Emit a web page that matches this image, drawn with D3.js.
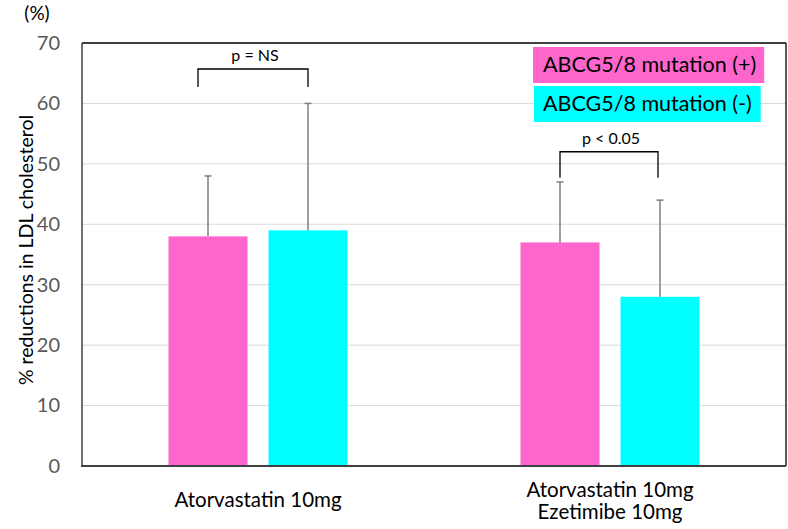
<!DOCTYPE html>
<html><head><meta charset="utf-8">
<script src="https://cdn.jsdelivr.net/npm/d3@7"></script>
<style>
html,body{margin:0;padding:0;background:#fff;}
svg{display:block;font-family:Lato,"Noto Sans",sans-serif;}
</style></head>
<body><svg id="c" width="788" height="529"></svg>
<script>
// ---- data ----
const groups = ["Atorvastatin 10mg", "Atorvastatin 10mg\nEzetimibe 10mg"];
const seriesNames = ["ABCG5/8 mutation (+)", "ABCG5/8 mutation (-)"];
const seriesColors = ["#FF66CC", "#00FFFF"];
const mutPos = [38, 37];      // mean % reduction, mutation (+)
const mutNeg = [39, 28];      // mean % reduction, mutation (-)
const sdPos = [10, 10];       // upper error, mutation (+)
const sdNeg = [21, 16];       // upper error, mutation (-)
const yTicks = [0, 10, 20, 30, 40, 50, 60, 70];
const pLabels = ["p = NS", "p < 0.05"];
const bracketTop = [65.7, 52];
const bracketBottom = [62.7, 47.7];

const svg = d3.select("#c");
const W = 788, H = 529;
const m = {left: 82, right: 2, top: 43, bottom: 63};

const x0 = d3.scaleBand().domain(groups).range([m.left, W - m.right]).padding(0);
const x1 = d3.scaleBand().domain(seriesNames).range([0, x0.bandwidth()]).paddingInner(0.21).paddingOuter(0.865);
const y = d3.scaleLinear().domain([0, 70]).range([H - m.bottom, m.top]);

// gridlines
svg.append("g").selectAll("line").data(yTicks.filter(d => d > 0 && d < 70)).join("line")
  .attr("x1", m.left).attr("x2", W - m.right)
  .attr("y1", d => y(d)).attr("y2", d => y(d))
  .attr("stroke", "#d9d9d9").attr("stroke-width", 1);

// y axis tick labels
const yAxis = d3.axisLeft(y).tickValues(yTicks).tickSize(0).tickPadding(22);
const ga = svg.append("g").attr("transform", `translate(${m.left},0)`).call(yAxis);
ga.select(".domain").remove();
ga.selectAll("text").attr("font-family", "Lato, sans-serif").attr("font-size", 20).attr("fill", "#595959");

// bars
const rows = groups.map((g, i) => [
  {g, s: seriesNames[0], v: mutPos[i], e: sdPos[i], c: seriesColors[0]},
  {g, s: seriesNames[1], v: mutNeg[i], e: sdNeg[i], c: seriesColors[1]}
]).flat();

svg.append("g").selectAll("rect").data(rows).join("rect")
  .attr("x", d => x0(d.g) + x1(d.s))
  .attr("width", x1.bandwidth())
  .attr("y", d => y(d.v))
  .attr("height", d => y(0) - y(d.v))
  .attr("fill", d => d.c);

// error bars (upper only)
const eb = svg.append("g").attr("stroke", "#7f7f7f").attr("stroke-width", 1.5);
rows.forEach(d => {
  const cx = x0(d.g) + x1(d.s) + x1.bandwidth() / 2;
  eb.append("line").attr("x1", cx).attr("x2", cx).attr("y1", y(d.v)).attr("y2", y(d.v + d.e));
  eb.append("line").attr("x1", cx - 3.5).attr("x2", cx + 3.5).attr("y1", y(d.v + d.e)).attr("y2", y(d.v + d.e));
});

// frame
svg.append("line").attr("x1", m.left).attr("x2", W - m.right).attr("y1", m.top).attr("y2", m.top).attr("stroke", "#000").attr("stroke-width", 1.3);
svg.append("line").attr("x1", W - m.right).attr("x2", W - m.right).attr("y1", m.top).attr("y2", y(0)).attr("stroke", "#000").attr("stroke-width", 1.3);
svg.append("line").attr("x1", m.left).attr("x2", m.left).attr("y1", m.top).attr("y2", y(0)).attr("stroke", "#404040").attr("stroke-width", 1.5);
svg.append("line").attr("x1", m.left - 1).attr("x2", W - m.right).attr("y1", y(0)).attr("y2", y(0)).attr("stroke", "#404040").attr("stroke-width", 2.2);

// significance brackets
const bOff = [[-10, 0], [0, -2]];
groups.forEach((g, i) => {
  const xa = x0(g) + x1(seriesNames[0]) + x1.bandwidth() / 2 + bOff[i][0];
  const xb = x0(g) + x1(seriesNames[1]) + x1.bandwidth() / 2 + bOff[i][1];
  svg.append("path")
    .attr("d", `M${xa},${y(bracketBottom[i])}V${y(bracketTop[i])}H${xb}V${y(bracketBottom[i])}`)
    .attr("fill", "none").attr("stroke", "#000").attr("stroke-width", 1.3);
  svg.append("text").attr("x", (xa + xb) / 2 + 2).attr("y", y(bracketTop[i]) - 8)
    .attr("text-anchor", "middle").attr("font-size", 16).attr("fill", "#000").text(pLabels[i]);
});

// x labels
groups.forEach((g, i) => {
  const lines = g.split("\n");
  const cx = x0(g) + x0.bandwidth() / 2;
  const base = lines.length === 1 ? 507 : 497;
  lines.forEach((l, j) => svg.append("text").attr("text-anchor", "middle")
    .attr("font-size", 20.5).attr("fill", "#000")
    .attr("x", cx).attr("y", base + j * 22).text(l));
});

// legend
const lg = svg.append("g");
const legY = [47, 86];
seriesNames.forEach((s, i) => {
  const t = lg.append("text").attr("x", 543).attr("y", legY[i] + 25).attr("font-size", 21.5).attr("fill", "#000").text(s);
  const w = t.node().getComputedTextLength();
  lg.insert("rect", "text").attr("x", 533 + i).attr("y", legY[i]).attr("width", w + 18).attr("height", 36).attr("fill", seriesColors[i]);
});

// y title
svg.append("text").attr("transform", `translate(33,250) rotate(-90)`).attr("text-anchor", "middle")
  .attr("font-size", 19.5).attr("fill", "#000").text("% reductions in LDL cholesterol");
svg.append("text").attr("x", 37).attr("y", 20).attr("text-anchor", "middle").attr("font-size", 19).attr("fill", "#000").text("(%)");
</script></body></html>
